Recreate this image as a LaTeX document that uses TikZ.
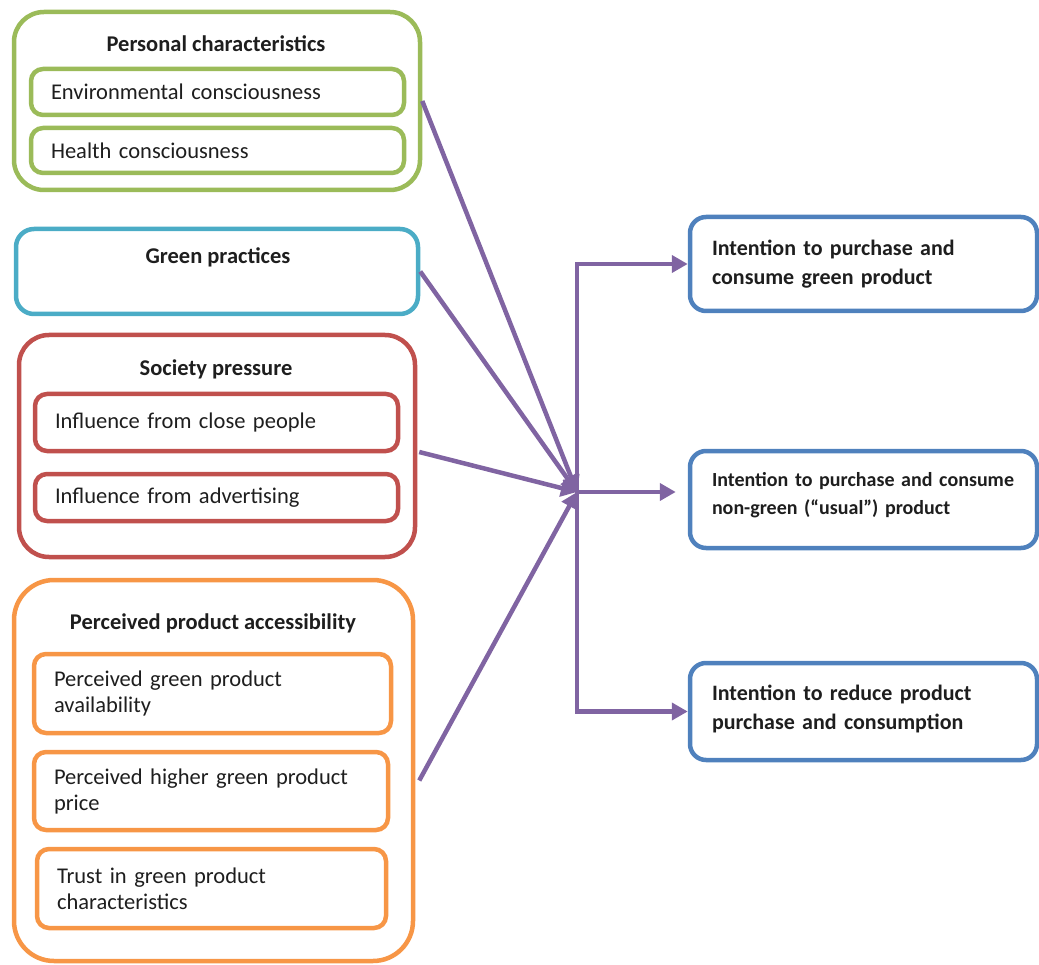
\documentclass[tikz,border=0pt]{standalone}
\usepackage{fontspec}
\setmainfont{Carlito}
\usetikzlibrary{arrows.meta,calc}

\definecolor{cgreen}{HTML}{9BBB59}
\definecolor{ccyan}{HTML}{4BACC6}
\definecolor{cred}{HTML}{C0504D}
\definecolor{corange}{HTML}{F79646}
\definecolor{cblue}{HTML}{4F81BD}
\definecolor{cpurple}{HTML}{8064A2}
\definecolor{ctext}{HTML}{1E1E1E}

\begin{document}
\begin{tikzpicture}[x=1pt,y=-1pt,
  every node/.style={text=ctext},
  group/.style={draw=#1, line width=4.5pt, rounded corners=30pt, inner sep=0pt},
  item/.style={draw=#1, line width=4.5pt, rounded corners=12pt, inner xsep=20pt,
    inner ysep=0pt, align=left, font=\fontsize{22.5}{26}\selectfont},
  outcome/.style={draw=cblue, line width=4.5pt, rounded corners=16pt, inner xsep=22pt,
    inner ysep=0pt, align=left, font=\bfseries\fontsize{22}{29}\selectfont},
  title/.style={font=\bfseries\fontsize{22.5}{26}\selectfont},
  conn/.style={draw=cpurple, line width=4.5pt, -{Triangle[length=16pt,width=17pt]}},
]
\useasboundingbox (0,0) rectangle (1039,965);

% Personal characteristics
\node[group=cgreen, minimum width=406pt, minimum height=178pt] (pc) at (217,101) {};
\node[title] (pct) at (216,44) {Personal characteristics};
\node[item=cgreen, minimum width=373pt, minimum height=46pt, text width=333pt] (env) at (217.5,92) {Environmental consciousness};
\node[item=cgreen, minimum width=373pt, minimum height=45pt, text width=333pt] (hea) at (217.5,150.5) {Health consciousness};

% Green practices
\node[group=ccyan, rounded corners=18pt, minimum width=402pt, minimum height=85pt] (gp) at (217,271.5) {};
\node[title] (gpt) at (218,257) {Green practices};

% Society pressure
\node[group=cred, minimum width=396pt, minimum height=222pt] (sp) at (217,446) {};
\node[title] (spt) at (216,369) {Society pressure};
\node[item=cred, minimum width=363pt, minimum height=57pt, text width=323pt] (close) at (216.5,422.5) {Influence from close people};
\node[item=cred, minimum width=363pt, minimum height=47pt, text width=323pt] (adv) at (216.5,497.5) {Influence from advertising};

% Perceived product accessibility
\node[group=corange, rounded corners=40pt, minimum width=399pt, minimum height=381pt] (ppa) at (213.5,770.5) {};
\node[title] (ppat) at (213,623) {Perceived product accessibility};
\node[item=corange, minimum width=357pt, minimum height=79pt, text width=317pt] (avail) at (212.5,693.5) {Perceived green product\\availability};
\node[item=corange, minimum width=354pt, minimum height=78pt, text width=314pt] (price) at (211,791) {Perceived higher green product\\price};
\node[item=corange, minimum width=349pt, minimum height=79pt, text width=309pt] (trust) at (211.5,888.5) {Trust in green product\\characteristics};

% Outcomes (an empty trailing line lifts the text a little above the middle)
\node[outcome, minimum width=347pt, minimum height=94pt, text width=303pt] (i1) at (863.5,264) {Intention to purchase and\\consume green product};
\node[outcome, font=\bfseries\fontsize{20}{28}\selectfont, minimum width=347pt, minimum height=97pt, text width=303pt] (i2) at (863.5,499.5) {\mbox{Intention to purchase and consume}\\non-green (“usual”) product\\[-16pt]\null};
\node[outcome, minimum width=347pt, minimum height=97pt, text width=303pt] (i3) at (863.5,711.5) {Intention to reduce product\\purchase and consumption\\[-21pt]\null};

% Connectors
\coordinate (hub) at (577,492);
\draw[conn] (pc.east) -- (hub);
\draw[conn] (gp.east) -- (hub);
\draw[conn] ($(sp.east)+(2,6)$) -- (hub);
\draw[conn] ($(ppa.east)+(4,10)$) -- (hub);
\draw[conn] (hub) |- (i1.west);
\draw[conn, shorten >=12pt] (hub) -- (hub -| i2.west);
\draw[conn] (hub) |- (i3.west);
\end{tikzpicture}
\end{document}
